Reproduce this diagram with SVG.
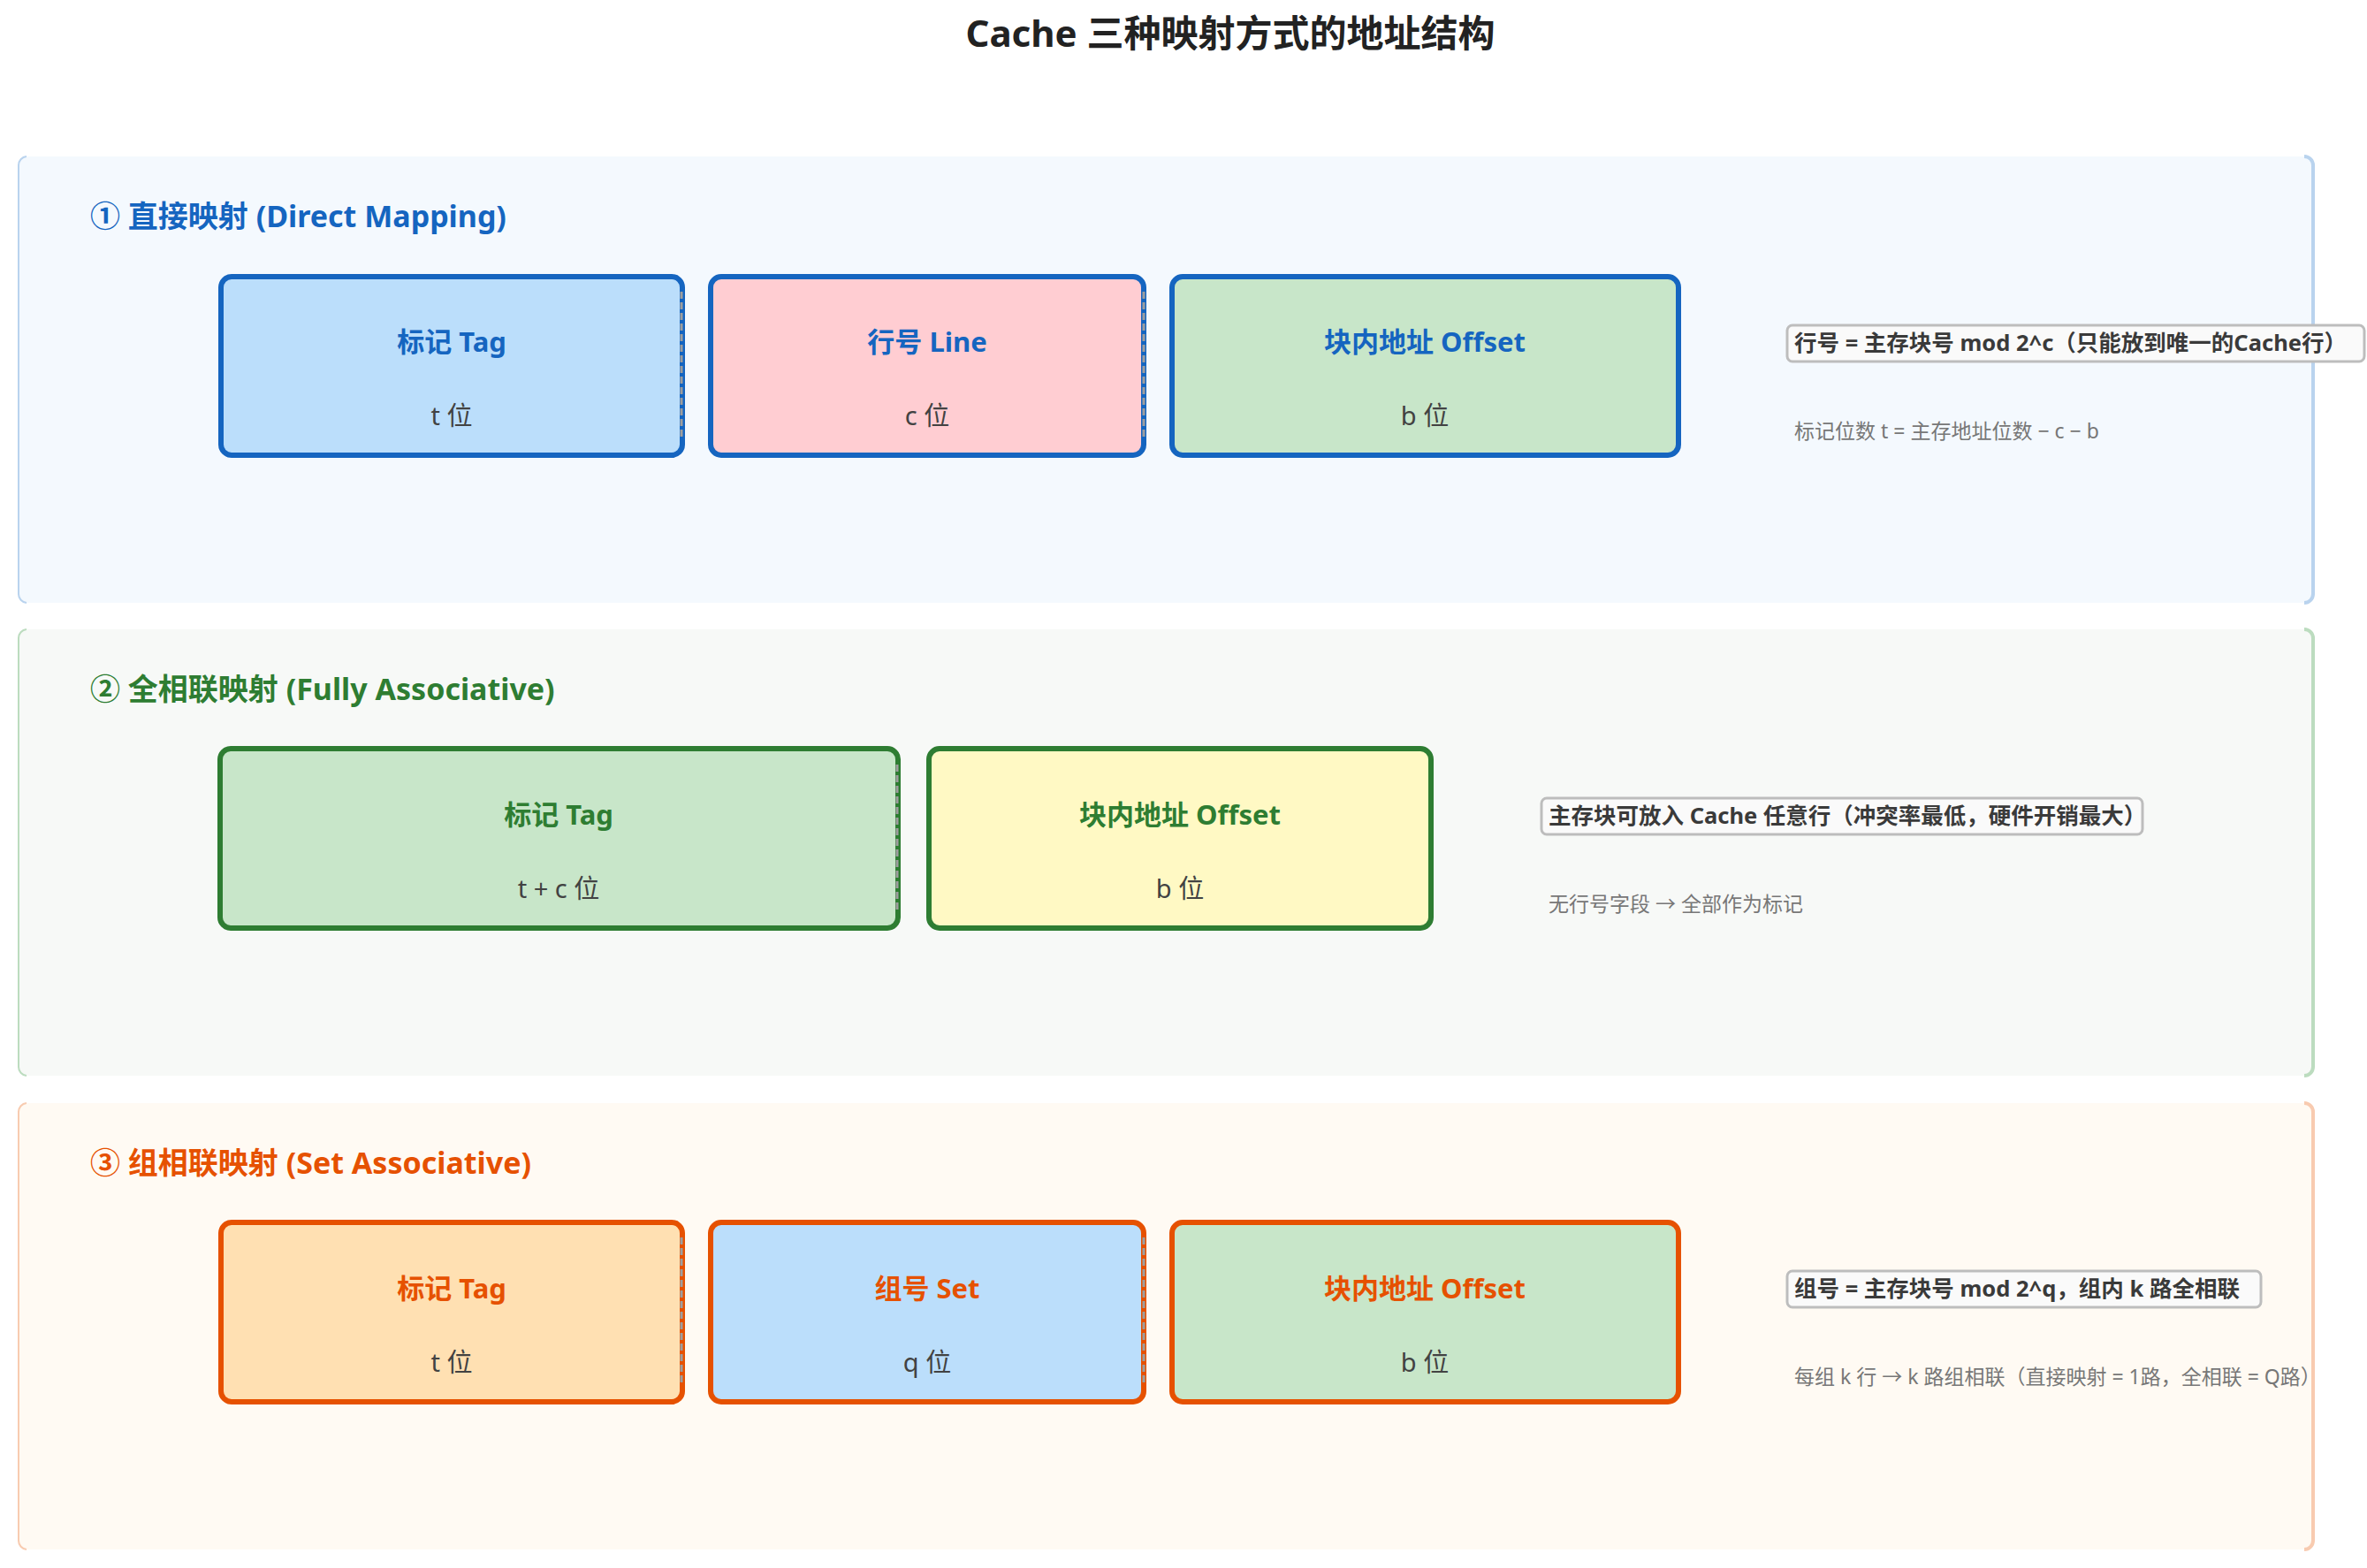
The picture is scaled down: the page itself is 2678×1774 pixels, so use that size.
<svg xmlns="http://www.w3.org/2000/svg" width="2678" height="1774" viewBox="0 0 2678 1774">
<defs>
<style>
text{font-family:"Noto Sans","Noto Sans CJK SC",sans-serif}
.title{font-size:42px;font-weight:700;fill:#222;text-anchor:middle}
.hdr{font-size:34px;font-weight:700}
.ft{font-size:31px;font-weight:700;text-anchor:middle}
.fs{font-size:29px;fill:#424242;text-anchor:middle}
.cb{fill:#fafafa;stroke:#bdbdbd;stroke-width:3}
.ct{font-size:25.5px;font-weight:700;fill:#3a3a3a}
.note{font-size:23px;fill:#777}
.fld{stroke-width:6}
.sep{stroke:#9e9e9e;stroke-width:3;stroke-dasharray:8 4;fill:none}
.b1{stroke:#1565c0}.t1{fill:#1565c0}
.b2{stroke:#2e7d32}.t2{fill:#2e7d32}
.b3{stroke:#e65100}.t3{fill:#e65100}
.edgeL{fill:none;stroke-width:2}
.edgeR{fill:none;stroke-width:4}
</style>
</defs>
<rect width="2678" height="1774" fill="#ffffff"/>
<text class="title" x="1392" y="53">Cache 三种映射方式的地址结构</text>

<g id="panel-direct">
<rect x="20" y="177" width="2597" height="505" rx="10" fill="#f4f9fe"/>
<path class="edgeL" stroke="#b9d3ee" d="M30,177 A10,10 0 0 0 21,187 V672 A10,10 0 0 0 30,682"/>
<path class="edgeR" stroke="#b9d3ee" d="M2607,177 A10,10 0 0 1 2617,187 V672 A10,10 0 0 1 2607,682"/>
<text class="hdr t1" x="102" y="257">① 直接映射 (Direct Mapping)</text>
</g>
<g id="direct-tag">
<rect class="fld b1" x="250" y="313" width="522" height="202" rx="12" fill="#bbdefb"/>
<text class="ft t1" x="511" y="398">标记 Tag</text>
<text class="fs" x="511" y="481">t 位</text>
</g>
<g id="direct-line">
<rect class="fld b1" x="804" y="313" width="490" height="202" rx="12" fill="#ffcdd2"/>
<text class="ft t1" x="1049" y="398">行号 Line</text>
<text class="fs" x="1049" y="481">c 位</text>
</g>
<g id="direct-offset">
<rect class="fld b1" x="1326" y="313" width="573" height="202" rx="12" fill="#c8e6c9"/>
<text class="ft t1" x="1612" y="398">块内地址 Offset</text>
<text class="fs" x="1612" y="481">b 位</text>
</g>
<g id="direct-note">
<rect class="cb" x="2022" y="368" width="653" height="41" rx="6"/>
<text class="ct" x="2030" y="397">行号 = 主存块号 mod 2^c（只能放到唯一的Cache行）</text>
<text class="note" x="2030" y="496">标记位数 t = 主存地址位数 − c − b</text>
</g>

<g id="panel-fully">
<rect x="20" y="712" width="2597" height="505" rx="10" fill="#f7f9f7"/>
<path class="edgeL" stroke="#bcdcbf" d="M30,712 A10,10 0 0 0 21,722 V1207 A10,10 0 0 0 30,1217"/>
<path class="edgeR" stroke="#bcdcbf" d="M2607,712 A10,10 0 0 1 2617,722 V1207 A10,10 0 0 1 2607,1217"/>
<text class="hdr t2" x="102" y="792">② 全相联映射 (Fully Associative)</text>
</g>
<g id="fully-tag">
<rect class="fld b2" x="249" y="847" width="767" height="203" rx="12" fill="#c8e6c9"/>
<text class="ft t2" x="632" y="933">标记 Tag</text>
<text class="fs" x="632" y="1016">t + c 位</text>
</g>
<g id="fully-offset">
<rect class="fld b2" x="1051" y="847" width="568" height="203" rx="12" fill="#fff9c4"/>
<text class="ft t2" x="1335" y="933">块内地址 Offset</text>
<text class="fs" x="1335" y="1016">b 位</text>
</g>
<g id="fully-note">
<rect class="cb" x="1744" y="903" width="680" height="41" rx="6"/>
<text class="ct" x="1752" y="932">主存块可放入 Cache 任意行（冲突率最低，硬件开销最大）</text>
<text class="note" x="1752" y="1031">无行号字段 → 全部作为标记</text>
</g>

<g id="panel-set">
<rect x="20" y="1248" width="2597" height="505" rx="10" fill="#fffaf3"/>
<path class="edgeL" stroke="#f8cbb0" d="M30,1248 A10,10 0 0 0 21,1258 V1743 A10,10 0 0 0 30,1753"/>
<path class="edgeR" stroke="#f8cbb0" d="M2607,1248 A10,10 0 0 1 2617,1258 V1743 A10,10 0 0 1 2607,1753"/>
<text class="hdr t3" x="102" y="1328">③ 组相联映射 (Set Associative)</text>
</g>
<g id="set-tag">
<rect class="fld b3" x="250" y="1383" width="522" height="203" rx="12" fill="#ffe0b2"/>
<text class="ft t3" x="511" y="1469">标记 Tag</text>
<text class="fs" x="511" y="1552">t 位</text>
</g>
<g id="set-set">
<rect class="fld b3" x="804" y="1383" width="490" height="203" rx="12" fill="#bbdefb"/>
<text class="ft t3" x="1049" y="1469">组号 Set</text>
<text class="fs" x="1049" y="1552">q 位</text>
</g>
<g id="set-offset">
<rect class="fld b3" x="1326" y="1383" width="573" height="203" rx="12" fill="#c8e6c9"/>
<text class="ft t3" x="1612" y="1469">块内地址 Offset</text>
<text class="fs" x="1612" y="1552">b 位</text>
</g>
<g id="set-note">
<rect class="cb" x="2022" y="1438" width="536" height="41" rx="6"/>
<text class="ct" x="2030" y="1467">组号 = 主存块号 mod 2^q，组内 k 路全相联</text>
<text class="note" x="2030" y="1566">每组 k 行 → k 路组相联（直接映射 = 1路，全相联 = Q路）</text>
</g>

<g id="connectors">
<line class="sep" x1="771" y1="330" x2="771" y2="498"/>
<line class="sep" x1="1294" y1="330" x2="1294" y2="498"/>
<line class="sep" x1="1015" y1="865" x2="1015" y2="1033"/>
<line class="sep" x1="771" y1="1400" x2="771" y2="1568"/>
<line class="sep" x1="1294" y1="1400" x2="1294" y2="1568"/>
</g>
</svg>
